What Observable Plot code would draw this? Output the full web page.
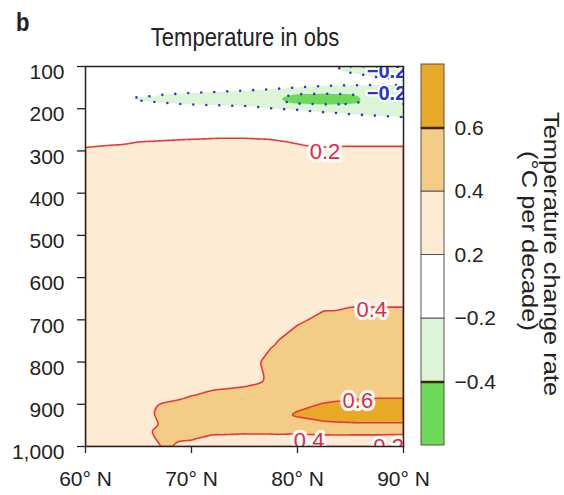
<!DOCTYPE html>
<html><head><meta charset="utf-8">
<script src="https://cdn.jsdelivr.net/npm/d3@7"></script>
<script src="https://cdn.jsdelivr.net/npm/@observablehq/plot@0.6"></script>
<style>
body{margin:0;background:#fff;font-family:"Liberation Sans",Arial,sans-serif;color:#222;}
#wrap{position:relative;width:564px;height:495px;overflow:hidden;background:#fff;}
#panel{position:absolute;left:16px;top:13px;font-size:22px;font-weight:bold;line-height:1;transform:scaleY(1.13);transform-origin:0 85%;}
#title{position:absolute;left:245px;top:28px;font-size:22px;line-height:1;white-space:nowrap;transform:translateX(-50%) scaleY(1.13);transform-origin:50% 85%;}
#chart{position:absolute;left:0;top:50px;}
#bar{position:absolute;left:405px;top:50px;}
.cbt{position:absolute;white-space:nowrap;line-height:1;font-size:22.5px;transform:translate(-50%,-50%) rotate(90deg) scaleX(1.13);}
#cbt1{left:551px;top:253.5px;}
#cbt2{left:528.5px;top:241px;}
</style></head><body>
<div id="wrap">
  <div id="panel">b</div>
  <div id="title">Temperature in obs</div>
  <div id="chart"></div>
  <div id="bar"></div>
  <div class="cbt" id="cbt1">Temperature change rate</div>
  <div class="cbt" id="cbt2">(°C per decade)</div>
</div>
<script>
// ---- data ----
const lats = [60, 62.5, 65, 67.5, 70, 72.5, 75, 77.5, 80, 82.5, 85, 87.5, 90];
const levels = [100, 125, 140, 155, 165, 175, 185, 200, 215, 230, 250, 275, 300, 400, 500, 600, 650, 700, 750, 800, 850, 875, 900, 925, 950, 975, 1000];
// temperature trend (°C per decade), one row per pressure level, one column per latitude
const trend = [
  [0.00, 0.00, -0.02, -0.04, -0.05, -0.06, -0.08, -0.10, -0.12, -0.16, -0.23, -0.26, -0.28],
  [0.00, -0.02, -0.04, -0.06, -0.08, -0.09, -0.10, -0.12, -0.14, -0.16, -0.18, -0.20, -0.21],
  [0.00, -0.02, -0.04, -0.06, -0.08, -0.09, -0.10, -0.12, -0.14, -0.16, -0.17, -0.18, -0.18],
  [0.00, -0.03, -0.06, -0.09, -0.12, -0.15, -0.18, -0.20, -0.23, -0.26, -0.27, -0.26, -0.25],
  [0.00, -0.05, -0.12, -0.19, -0.23, -0.25, -0.27, -0.34, -0.41, -0.42, -0.41, -0.32, -0.27],
  [-0.02, -0.19, -0.24, -0.27, -0.29, -0.30, -0.32, -0.37, -0.46, -0.48, -0.45, -0.33, -0.30],
  [0.00, -0.08, -0.17, -0.21, -0.25, -0.27, -0.30, -0.35, -0.45, -0.47, -0.44, -0.32, -0.29],
  [0.00, 0.00, -0.05, -0.08, -0.10, -0.11, -0.12, -0.18, -0.21, -0.25, -0.27, -0.28, -0.28],
  [0.02, 0.02, 0.00, -0.02, -0.04, -0.06, -0.08, -0.10, -0.13, -0.16, -0.19, -0.21, -0.23],
  [0.04, 0.04, 0.03, 0.02, 0.00, -0.01, -0.02, -0.04, -0.06, -0.08, -0.10, -0.12, -0.14],
  [0.08, 0.08, 0.09, 0.10, 0.12, 0.12, 0.12, 0.11, 0.06, 0.04, 0.03, 0.02, 0.02],
  [0.14, 0.16, 0.19, 0.20, 0.21, 0.22, 0.22, 0.21, 0.18, 0.15, 0.16, 0.16, 0.16],
  [0.23, 0.25, 0.26, 0.27, 0.27, 0.27, 0.27, 0.27, 0.24, 0.23, 0.23, 0.23, 0.23],
  [0.29, 0.30, 0.31, 0.31, 0.31, 0.31, 0.31, 0.30, 0.30, 0.30, 0.30, 0.30, 0.30],
  [0.30, 0.30, 0.30, 0.30, 0.30, 0.30, 0.30, 0.30, 0.30, 0.31, 0.31, 0.31, 0.31],
  [0.30, 0.30, 0.30, 0.30, 0.30, 0.31, 0.31, 0.32, 0.33, 0.34, 0.35, 0.35, 0.35],
  [0.30, 0.30, 0.30, 0.30, 0.31, 0.32, 0.33, 0.34, 0.36, 0.38, 0.38, 0.38, 0.38],
  [0.30, 0.30, 0.30, 0.31, 0.32, 0.33, 0.34, 0.36, 0.39, 0.415, 0.43, 0.43, 0.43],
  [0.30, 0.30, 0.31, 0.32, 0.33, 0.34, 0.36, 0.39, 0.43, 0.45, 0.46, 0.46, 0.46],
  [0.30, 0.30, 0.31, 0.32, 0.33, 0.35, 0.37, 0.42, 0.45, 0.47, 0.48, 0.48, 0.48],
  [0.30, 0.31, 0.32, 0.34, 0.35, 0.37, 0.38, 0.41, 0.46, 0.50, 0.52, 0.53, 0.53],
  [0.31, 0.32, 0.33, 0.35, 0.39, 0.42, 0.44, 0.46, 0.50, 0.53, 0.56, 0.57, 0.57],
  [0.31, 0.33, 0.37, 0.41, 0.44, 0.46, 0.48, 0.51, 0.56, 0.61, 0.63, 0.64, 0.64],
  [0.31, 0.33, 0.37, 0.42, 0.46, 0.49, 0.51, 0.55, 0.62, 0.66, 0.68, 0.69, 0.69],
  [0.31, 0.33, 0.37, 0.41, 0.45, 0.47, 0.48, 0.49, 0.52, 0.56, 0.57, 0.57, 0.57],
  [0.31, 0.32, 0.36, 0.43, 0.42, 0.39, 0.38, 0.38, 0.37, 0.38, 0.38, 0.38, 0.37],
  [0.30, 0.31, 0.34, 0.41, 0.37, 0.33, 0.31, 0.30, 0.30, 0.29, 0.27, 0.23, 0.18]
];
// contour levels / colour classes (colour bar)
const bounds = [-0.4, -0.2, 0.2, 0.4, 0.6];
const classColors = ["#6cda58", "#def4d6", "#ffffff", "#fdecd3", "#f3cd85", "#e9a928"];
const barLabels = ["−0.4", "−0.2", "0.2", "0.4", "0.6"];
// axis ticks
const xTicks = [60, 70, 80, 90];
const yTicks = [100, 200, 300, 400, 500, 600, 700, 800, 900, 1000];
// contour labels
const labelLat = [82.6, 87.0, 85.7, 81.1, 88.6, 88.4, 88.4];
const labelP = [302, 676, 891, 988, 1002, 113, 163];
const labelText = ["0.2", "0.4", "0.6", "0.4", "0.2", "−0.2", "−0.2"];

// ---- build table ----
const grid = levels.flatMap((p, i) => lats.map((lat, j) => ({lat, p, v: trend[i][j]})));
const labels = labelText.map((t, i) => ({lat: labelLat[i], p: labelP[i], t, neg: t.startsWith("−")}));

const colorScale = {type: "threshold", domain: bounds, range: classColors};
const common = {x: "lat", y: "p", interpolate: "barycentric", pixelSize: 1, blur: 1};

const chart = Plot.plot({
  width: 564, height: 445,
  marginLeft: 85, marginRight: 161, marginTop: 16, marginBottom: 49,
  style: {fontFamily: "Liberation Sans, Arial, sans-serif", color: "#222", background: "transparent", overflow: "visible"},
  x: {domain: [60, 90], label: null},
  y: {domain: [100, 1000], reverse: true, label: null},
  color: colorScale,
  marks: [
    Plot.contour(grid, {...common, fill: "v", thresholds: [-1, ...bounds], stroke: "none"}),
    Plot.contour(grid, {...common, value: "v", thresholds: bounds.filter(b => b > 0), fill: "none",
      stroke: "#e6383c", strokeWidth: 1.6, clip: true}),
    Plot.contour(grid, {...common, value: d => -d.v, thresholds: bounds.filter(b => b < 0).map(b => -b), fill: "none",
      stroke: "#2a3ccf", strokeWidth: 2.6, strokeDasharray: "0 13", strokeLinecap: "round", clip: true}),
    Plot.text(labels.filter(d => !d.neg), {x: "lat", y: "p", text: "t", fill: "#e3283c",
      stroke: "white", strokeWidth: 6, fontSize: 22, clip: true}),
    Plot.text(labels.filter(d => d.neg), {x: "lat", y: "p", text: "t", fill: "#2435d0",
      stroke: "white", strokeWidth: 4, fontSize: 20, fontWeight: "bold", clip: true}),
    Plot.frame({stroke: "#222", strokeWidth: 1.5}),
    Plot.axisY(yTicks, {tickSize: 8, fill: "none", stroke: "#222", strokeWidth: 1.3}),
    Plot.axisY(yTicks, {tickSize: 0, tickPadding: 21, tickFormat: d3.format(","), fontSize: 21, dy: 6, fill: "#222"}),
    Plot.axisX(xTicks, {tickSize: 7, fill: "none", stroke: "#222", strokeWidth: 1.3}),
    Plot.axisX(xTicks, {tickSize: 0, tickPadding: 25, tickFormat: d => `${d}° N`, fontSize: 21, fill: "#222"})
  ]
});
document.getElementById("chart").append(chart);

// ---- colour bar ----
const classLow = [-1, ...bounds];
const bar = Plot.plot({
  width: 159, height: 445,
  marginLeft: 16, marginRight: 120, marginTop: 14, marginBottom: 50,
  style: {fontFamily: "Liberation Sans, Arial, sans-serif", color: "#222", background: "transparent", overflow: "visible"},
  x: {domain: [0, 1], axis: null},
  y: {domain: [0, classLow.length], axis: null},
  color: colorScale,
  marks: [
    Plot.rect(classLow, {x1: 0, x2: 1, y1: (d, i) => i, y2: (d, i) => i + 1, fill: d => d, stroke: "#555", strokeWidth: 1}),
    Plot.ruleY([bounds.indexOf(-0.4) + 1, bounds.indexOf(0.6) + 1], {x1: 0, x2: 1, stroke: "#3b2608", strokeWidth: 2.5}),
    Plot.text(barLabels, {x: 1, y: (d, i) => i + 1, text: d => d, dx: 10, textAnchor: "start", fontSize: 21, fill: "#222"})
  ]
});
document.getElementById("bar").append(bar);
</script>
</body></html>
